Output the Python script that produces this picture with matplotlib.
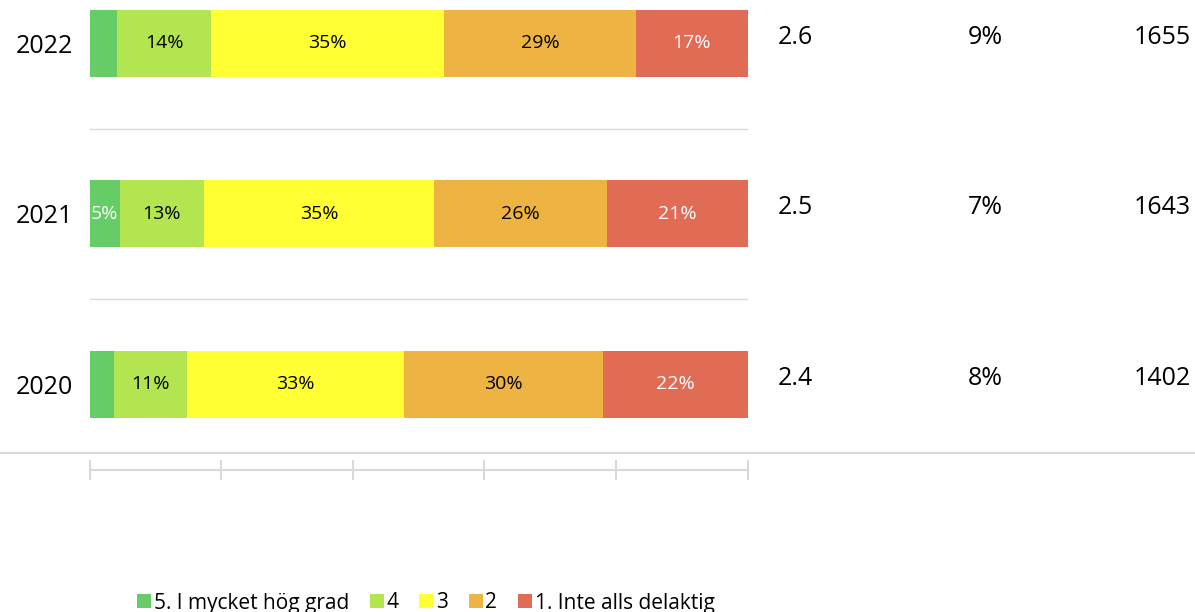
import matplotlib
matplotlib.use("Agg")
import matplotlib.pyplot as plt
import numpy as np
from matplotlib.lines import Line2D

plt.rcParams['font.family'] = ['Open Sans', 'DejaVu Sans']

years = ["2020", "2021", "2022"]
series_names = ["5. I mycket hög grad", "4", "3", "2", "1. Inte alls delaktig"]
# values per year (rows follow `years`), columns follow `series_names`
values = np.array([
    [3.7, 11.2, 33.0, 30.3, 22.0],   # 2020
    [4.6, 12.8, 35.0, 26.2, 21.4],   # 2021
    [4.2, 14.3, 35.3, 29.3, 16.9],   # 2022
])
colors = ["#66CC66", "#B3E550", "#FFFF33", "#EEB443", "#E06C55"]
label_colors = ["white", "black", "black", "black", "white"]
min_label = 4.5

means = ["2.4", "2.5", "2.6"]
dont_know = ["8%", "7%", "9%"]
counts = ["1402", "1643", "1655"]

W, H = 1195, 612
fig = plt.figure(figsize=(W / 100, H / 100), dpi=100)

left_px, right_px = 89.5, 747.5
bot_px, top_px = 469.5, -42.0
ax = fig.add_axes([left_px / W, 1 - bot_px / H, (right_px - left_px) / W, (bot_px - top_px) / H])
ax.set_xlim(0, 100)
ax.set_ylim(-0.5, 2.5)

grid_col = "#D9D9D9"
ypos = np.arange(len(years))
totals = values.sum(axis=1)
norm = values / totals[:, None] * 100
lefts = np.zeros(len(years))
bar_h = 0.393
handles = []
for j, name in enumerate(series_names):
    b = ax.barh(ypos, norm[:, j], left=lefts, height=bar_h, color=colors[j], label=name, linewidth=0)
    handles.append(b)
    for i in range(len(years)):
        if values[i, j] >= min_label:
            ax.text(lefts[i] + norm[i, j] / 2, ypos[i], f"{int(values[i, j] + 0.5):d}%",
                    ha="center", va="center", fontsize=14, color=label_colors[j])
    lefts += norm[:, j]

for yb in [0.5, 1.5]:
    ax.axhline(yb, color=grid_col, lw=1.0, zorder=0)

for s in ["top", "right", "left"]:
    ax.spines[s].set_visible(False)
ax.spines["bottom"].set_color(grid_col)
ax.spines["bottom"].set_linewidth(1.5)
ax.set_xticks(np.arange(0, 101, 20))
ax.tick_params(axis="x", direction="inout", length=14, width=1.5, color=grid_col, labelbottom=False)
ax.set_yticks(ypos)
ax.set_yticklabels(years, fontsize=18)
ax.tick_params(axis="y", length=0, pad=12)

t = ax.get_yaxis_transform()
span = right_px - left_px
for i in range(len(years)):
    yy = ypos[i] + 0.035
    ax.text(1 + (778 - right_px) / span, yy, means[i], transform=t,
            ha="left", va="center", fontsize=18)
    ax.text(1 + (985 - right_px) / span, yy, dont_know[i], transform=t,
            ha="center", va="center", fontsize=18)
    ax.text(1 + (1191 - right_px) / span, yy, counts[i], transform=t,
            ha="right", va="center", fontsize=18)

fig.add_artist(Line2D([0, 1], [1 - 453 / H, 1 - 453 / H], color=grid_col, lw=1.5, transform=fig.transFigure))

fig.legend(handles=handles, labels=series_names, loc="center left",
           bbox_to_anchor=(137 / W, 1 - 603 / H), ncol=5, frameon=False,
           fontsize=15, handlelength=0.68, handleheight=0.68, handletextpad=0.12,
           columnspacing=1.0, borderaxespad=0, borderpad=0)

fig.savefig("out.png", dpi=100)
